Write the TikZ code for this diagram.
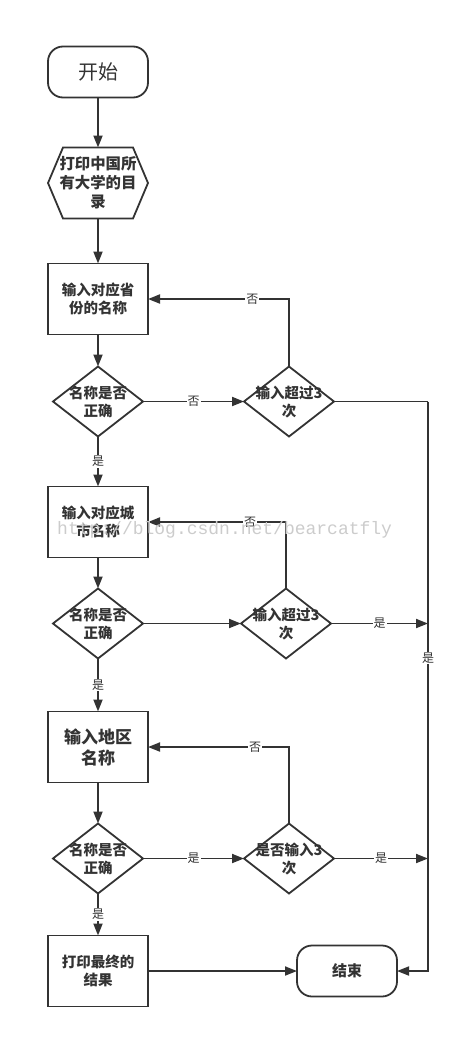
\documentclass[tikz,border=0pt]{standalone}
\usepackage{fontspec}
\setmainfont{Noto Sans CJK SC}
\newfontfamily\wmfont{Liberation Mono}
\usepackage{xcolor}
\usepackage{tikz}
\usetikzlibrary{shapes.geometric, arrows.meta, positioning}

\definecolor{ink}{HTML}{333333}

\begin{document}
\begin{tikzpicture}[
    node distance=50pt,
    line width=1.8pt,
    term/.style={draw=ink, text=ink, outer sep=0pt, rounded corners=15pt, minimum width=100pt, minimum height=51pt, align=center},
    box/.style={draw=ink, text=ink, outer sep=0pt, minimum width=100pt, minimum height=71pt, align=center, font=\bfseries\fontsize{14.5}{18}\selectfont},
    hexa/.style={text=ink, outer sep=0pt, minimum width=100pt, minimum height=71pt, align=center, font=\bfseries\fontsize{15.4}{19}\selectfont},
    dia/.style={diamond, draw=ink, text=ink, outer sep=0pt, minimum width=90pt, minimum height=70pt, aspect=1.29, inner sep=-6pt, align=center, font=\bfseries\fontsize{14.5}{18}\selectfont},
    arr/.style={-{Triangle[length=12pt, width=9pt]}, draw=ink},
    lnk/.style={draw=ink},
    lbl/.style={fill=white, text=ink, inner sep=1pt, font=\fontsize{12}{12}\selectfont}
  ]
    \useasboundingbox (0,0) rectangle (459pt,-1039pt);
    % left column
    \node[term, font=\fontsize{20}{20}\selectfont] (start) at (98pt,-72pt) {开始};
    \node[hexa, below=50pt of start] (catalog) {打印中国所\\有大学的目\\录};
    \draw[draw=ink] (catalog.west) -- ([xshift=15pt]catalog.north west) -- ([xshift=-15pt]catalog.north east)
      -- (catalog.east) -- ([xshift=-15pt]catalog.south east) -- ([xshift=15pt]catalog.south west) -- cycle;
    \node[box, below=45pt of catalog] (prov) {输入对应省\\份的名称};
    \node[dia, below=32pt of prov] (provok) {名称是否\\正确};
    \node[box, below=50pt of provok] (city) {输入对应城\\市名称};
    \node[dia, below=31pt of city] (cityok) {名称是否\\正确};
    \node[box, below=53pt of cityok, font=\bfseries\fontsize{17}{21}\selectfont] (area) {输入地区\\名称};
    \node[dia, below=41pt of area] (areaok) {名称是否\\正确};
    \node[box, below=42pt of areaok] (result) {打印最终的\\结果};
    % right column
    \node[dia, right=101pt of provok] (provcnt) {输入超过3\\次};
    \node[dia, right=98pt of cityok] (citycnt) {输入超过3\\次};
    \node[dia, right=101pt of areaok] (areacnt) {是否输入3\\次};
    \node[term, right=149pt of result, font=\bfseries\fontsize{15}{15}\selectfont] (finish) {结束};
    \coordinate[right=94pt of provcnt] (rail);

    \draw[arr] (start) -- (catalog);
    \draw[arr] (catalog) -- (prov);
    \draw[arr] (prov) -- (provok);
    \draw[arr] (provok) -- node[lbl] {是} (city);
    \draw[arr] (city) -- (cityok);
    \draw[arr] (cityok) -- node[lbl] {是} (area);
    \draw[arr] (area) -- (areaok);
    \draw[arr] (areaok) -- node[lbl] {是} (result);
    \draw[arr] (result) -- (finish);

    \draw[arr] (provok) -- node[lbl] {否} (provcnt);
    \draw[arr] (cityok) -- (citycnt);
    \draw[arr] (areaok) -- node[lbl] {是} (areacnt);

    \draw[arr] (provcnt.north) |- node[lbl, pos=0.63] {否} (prov.east);
    \draw[arr] (citycnt.north) |- node[lbl, pos=0.63] {否} (city.east);
    \draw[arr] (areacnt.north) |- node[lbl, pos=0.62] {否} (area.east);

    \draw[lnk] (provcnt) -- (rail);
    \draw[arr] (rail) |- node[lbl, pos=0.225] {是} (finish.east);
    \draw[arr] (citycnt) -- node[lbl] {是} (citycnt -| rail);
    \draw[arr] (areacnt) -- node[lbl] {是} (areacnt -| rail);

    % watermark
    \node[anchor=east, text=black!20, inner sep=0pt, font=\wmfont\fontsize{18}{18}\selectfont] (mark) at (393pt,-530pt) {http://blog.csdn.net/bearcatfly};
\end{tikzpicture}
\end{document}
